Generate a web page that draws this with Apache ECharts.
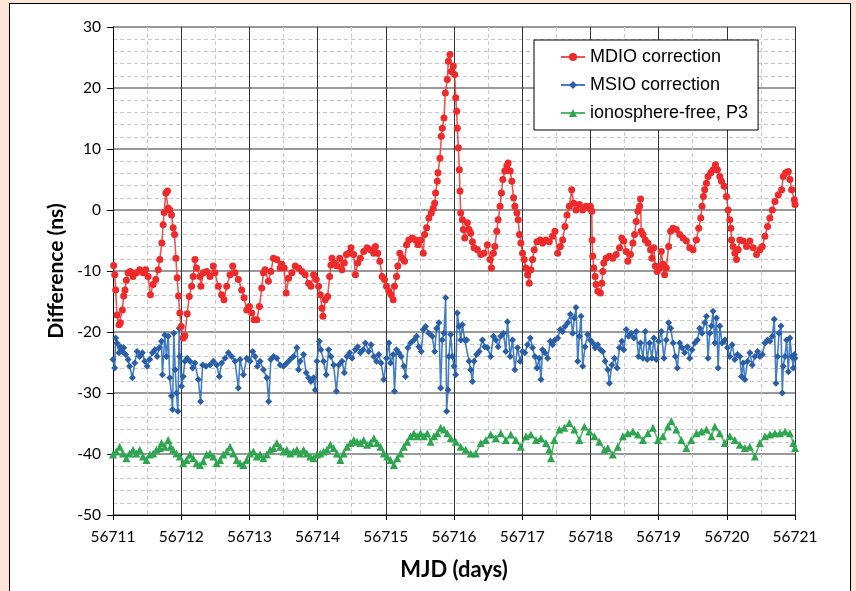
<!DOCTYPE html>
<html>
<head>
<meta charset="utf-8">
<script src="https://cdn.jsdelivr.net/npm/echarts@6/dist/echarts.min.js"></script>
<style>
html,body{margin:0;padding:0;background:#fce4d6;}
#frame{position:absolute;left:9px;top:3px;width:842px;height:600px;background:#fff;border:1.5px solid #000;box-sizing:border-box;}
#chart{position:absolute;left:0;top:0;width:856px;height:591px;}
</style>
</head>
<body>
<div id="frame"></div>
<div id="chart"></div>
<script>
const MJD0 = 56711;
const xTicks = [56711,56712,56713,56714,56715,56716,56717,56718,56719,56720,56721];
const yTicks = [-50,-40,-30,-20,-10,0,10,20,30];
const seriesNames = ["MDIO correction","MSIO correction","ionosphere-free, P3"];

// [days since MJD0, ns]
const mdio = [[0.010,-9.1],[0.025,-10.6],[0.039,-13.1],[0.059,-17.2],[0.088,-18.8],[0.108,-18.5],[0.137,-16.4],[0.157,-14.1],[0.176,-13.1],[0.196,-11.5],[0.221,-10.3],[0.255,-10.1],[0.294,-10.9],[0.343,-10.3],[0.392,-9.8],[0.441,-10.3],[0.480,-9.8],[0.515,-10.9],[0.549,-13.9],[0.588,-12.2],[0.627,-11.4],[0.662,-9.8],[0.686,-8.1],[0.716,-5.4],[0.735,-2.4],[0.750,-0.4],[0.775,2.8],[0.799,3.1],[0.809,0.3],[0.833,0],[0.858,-0.8],[0.882,-2.9],[0.902,-4.0],[0.922,-7.9],[0.941,-11.1],[0.961,-14.1],[0.980,-16.9],[1.000,-19.1],[1.030,-21.0],[1.054,-20.6],[1.088,-17.0],[1.118,-14.2],[1.152,-12.5],[1.176,-10.9],[1.201,-8.1],[1.225,-9.5],[1.275,-10.9],[1.289,-12.5],[1.324,-10.3],[1.373,-10.1],[1.422,-10.9],[1.471,-9.2],[1.495,-10.3],[1.544,-12.5],[1.593,-13.9],[1.627,-14.7],[1.667,-12.5],[1.716,-10.6],[1.755,-9.2],[1.789,-10.3],[1.838,-11.4],[1.887,-13.1],[1.922,-14.4],[1.961,-16.4],[2.000,-15.8],[2.034,-16.9],[2.069,-18.0],[2.108,-18.0],[2.147,-15.8],[2.181,-12.8],[2.206,-10.3],[2.230,-9.8],[2.279,-11.7],[2.314,-10.1],[2.353,-7.9],[2.402,-8.1],[2.451,-9.5],[2.475,-8.9],[2.510,-9.5],[2.539,-13.6],[2.574,-11.2],[2.623,-10.3],[2.672,-9.2],[2.721,-9.5],[2.770,-10.1],[2.819,-10.6],[2.868,-12.0],[2.902,-12.5],[2.941,-10.6],[2.980,-11.4],[3.015,-12.5],[3.039,-13.9],[3.064,-16.1],[3.078,-17.4],[3.113,-14.7],[3.147,-14.2],[3.176,-10.9],[3.196,-9.0],[3.211,-7.9],[3.245,-8.7],[3.284,-9.2],[3.324,-7.9],[3.358,-9.8],[3.392,-8.7],[3.422,-7.3],[3.456,-7.1],[3.490,-6.2],[3.529,-7.3],[3.554,-10.6],[3.588,-8.7],[3.627,-7.9],[3.676,-6.8],[3.725,-6.2],[3.775,-6.5],[3.824,-7.1],[3.848,-6.0],[3.882,-7.1],[3.912,-8.4],[3.946,-10.9],[3.980,-11.4],[4.010,-12.5],[4.044,-13.3],[4.078,-13.9],[4.108,-14.7],[4.127,-12.5],[4.157,-10.9],[4.176,-9.2],[4.206,-7.1],[4.240,-7.9],[4.275,-8.4],[4.304,-5.7],[4.338,-4.9],[4.387,-4.6],[4.436,-4.9],[4.471,-5.7],[4.510,-4.9],[4.549,-7.1],[4.569,-4.0],[4.598,-2.9],[4.632,-1.3],[4.667,-0.5],[4.696,0.3],[4.716,1.1],[4.730,2.8],[4.755,4.7],[4.765,6.1],[4.794,8.5],[4.814,12.1],[4.829,13.4],[4.853,15.1],[4.873,19.2],[4.902,21.4],[4.917,24.4],[4.941,25.5],[4.961,22.7],[4.990,23.6],[5.010,22.2],[5.025,18.4],[5.039,16.2],[5.049,13.4],[5.064,10.2],[5.078,6.6],[5.088,3.1],[5.098,-0.5],[5.123,-1.6],[5.137,-3.2],[5.157,-4.6],[5.196,-2.1],[5.221,-3.2],[5.245,-3.8],[5.270,-5.2],[5.294,-6.2],[5.343,-6.5],[5.392,-7.3],[5.441,-7.1],[5.490,-5.7],[5.529,-8.1],[5.549,-9.5],[5.578,-7.1],[5.598,-6.0],[5.627,-3.5],[5.647,-1.6],[5.676,0.6],[5.696,2.8],[5.716,5.0],[5.745,6.4],[5.775,7.2],[5.794,7.7],[5.824,6.4],[5.848,4.7],[5.873,2.0],[5.892,0.6],[5.922,-0.5],[5.941,-1.6],[5.961,-4.0],[5.980,-5.4],[6.005,-7.1],[6.029,-8.1],[6.054,-9.5],[6.078,-10.6],[6.103,-12.0],[6.127,-9.8],[6.152,-8.1],[6.176,-6.5],[6.216,-5.2],[6.265,-4.9],[6.299,-5.4],[6.348,-4.9],[6.397,-5.2],[6.446,-4.3],[6.480,-3.5],[6.520,-7.1],[6.559,-6.0],[6.593,-4.9],[6.627,-2.7],[6.657,-0.8],[6.691,0.6],[6.725,3.3],[6.755,1.1],[6.789,0.0],[6.838,0.9],[6.887,0.0],[6.936,0.6],[6.985,0.3],[7.000,0.6],[7.020,-0.2],[7.025,-4.9],[7.035,-7.6],[7.049,-9.5],[7.069,-10.9],[7.083,-12.2],[7.108,-13.3],[7.147,-13.6],[7.167,-12.0],[7.182,-10.1],[7.196,-8.7],[7.230,-7.9],[7.280,-7.6],[7.328,-7.9],[7.378,-7.3],[7.427,-6.2],[7.461,-4.6],[7.490,-5.1],[7.525,-6.8],[7.549,-8.4],[7.588,-7.3],[7.623,-5.4],[7.647,-4.0],[7.672,-1.9],[7.696,-0.2],[7.721,0.6],[7.735,1.8],[7.745,-3.5],[7.770,-4.0],[7.804,-4.9],[7.843,-5.4],[7.882,-6.5],[7.902,-7.9],[7.931,-6.2],[7.951,-9.2],[7.980,-10.1],[8.015,-9.5],[8.039,-6.8],[8.064,-8.9],[8.088,-10.6],[8.113,-9.5],[8.147,-6.0],[8.176,-3.5],[8.211,-3.0],[8.260,-3.2],[8.309,-4.0],[8.358,-4.6],[8.407,-5.1],[8.456,-6.2],[8.505,-6.5],[8.554,-4.9],[8.588,-3.0],[8.618,-1.3],[8.637,0.6],[8.657,2.2],[8.676,3.3],[8.701,4.4],[8.725,5.5],[8.765,6.1],[8.799,6.6],[8.833,7.4],[8.863,6.6],[8.897,5.5],[8.922,4.7],[8.961,3.9],[8.995,2.2],[9.020,0.0],[9.044,-1.6],[9.059,-3.0],[9.069,-4.9],[9.093,-6.0],[9.118,-7.1],[9.142,-8.1],[9.167,-6.5],[9.191,-4.9],[9.240,-5.1],[9.289,-6.0],[9.338,-5.1],[9.387,-6.2],[9.436,-7.3],[9.485,-6.5],[9.520,-6.0],[9.559,-4.3],[9.598,-2.7],[9.632,-1.3],[9.667,0.0],[9.706,1.4],[9.755,2.5],[9.804,3.3],[9.828,5.5],[9.863,6.1],[9.902,6.3],[9.926,5.0],[9.951,3.3],[9.990,1.7],[10.000,0.9]];

const msio = [[0.000,-24.5],[0.025,-25.9],[0.039,-21.0],[0.059,-21.8],[0.088,-23.4],[0.108,-22.4],[0.137,-23.2],[0.157,-22.6],[0.186,-23.7],[0.221,-24.5],[0.245,-25.6],[0.284,-27.5],[0.319,-25.1],[0.353,-23.2],[0.392,-24.0],[0.431,-23.4],[0.466,-24.8],[0.500,-25.6],[0.539,-24.5],[0.578,-23.4],[0.613,-22.9],[0.647,-24.0],[0.676,-22.6],[0.711,-21.5],[0.725,-27.0],[0.760,-20.5],[0.784,-24.0],[0.809,-20.7],[0.833,-27.5],[0.858,-30.5],[0.873,-32.7],[0.892,-20.2],[0.912,-26.2],[0.931,-30.0],[0.951,-33.0],[0.971,-19.4],[0.980,-24.0],[1.005,-28.9],[1.029,-27.3],[1.054,-24.8],[1.088,-24.3],[1.127,-24.8],[1.167,-25.9],[1.201,-25.1],[1.250,-27.8],[1.284,-31.4],[1.314,-25.4],[1.363,-25.6],[1.422,-25.4],[1.471,-24.8],[1.520,-25.4],[1.559,-27.3],[1.593,-25.1],[1.642,-24.3],[1.691,-23.4],[1.740,-24.0],[1.789,-24.8],[1.838,-29.2],[1.863,-24.5],[1.912,-27.0],[1.961,-24.3],[2.010,-24.8],[2.049,-23.2],[2.083,-24.0],[2.118,-25.6],[2.157,-24.8],[2.206,-26.2],[2.255,-27.5],[2.284,-31.4],[2.314,-24.5],[2.353,-24.0],[2.402,-24.3],[2.451,-25.4],[2.500,-25.6],[2.549,-25.1],[2.598,-24.5],[2.647,-24.0],[2.696,-22.6],[2.721,-26.2],[2.745,-24.8],[2.794,-23.7],[2.833,-26.7],[2.868,-27.5],[2.902,-28.1],[2.941,-27.5],[2.966,-29.5],[2.990,-24.8],[3.025,-21.5],[3.049,-22.9],[3.088,-24.8],[3.127,-27.0],[3.162,-22.9],[3.196,-24.0],[3.235,-25.4],[3.275,-29.7],[3.309,-25.4],[3.358,-24.8],[3.392,-26.7],[3.431,-24.0],[3.471,-23.4],[3.505,-24.3],[3.554,-22.9],[3.588,-22.4],[3.627,-23.4],[3.667,-22.9],[3.701,-21.8],[3.750,-23.2],[3.784,-22.1],[3.824,-24.0],[3.863,-24.8],[3.897,-23.7],[3.931,-25.1],[3.971,-27.8],[4.010,-24.3],[4.044,-21.8],[4.069,-25.1],[4.108,-23.7],[4.127,-29.7],[4.157,-22.9],[4.191,-23.4],[4.225,-24.0],[4.265,-25.6],[4.289,-27.3],[4.324,-22.6],[4.363,-21.8],[4.412,-21.3],[4.451,-20.7],[4.485,-22.4],[4.520,-23.2],[4.549,-19.6],[4.583,-19.1],[4.632,-20.2],[4.681,-20.7],[4.716,-23.2],[4.745,-19.4],[4.779,-18.5],[4.804,-29.2],[4.828,-21.3],[4.853,-20.2],[4.878,-14.4],[4.892,-33.0],[4.912,-29.5],[4.926,-24.0],[4.951,-20.4],[4.976,-24.0],[5.000,-25.6],[5.025,-27.0],[5.049,-16.9],[5.074,-19.1],[5.098,-21.3],[5.123,-18.8],[5.157,-21.3],[5.186,-21.3],[5.221,-24.8],[5.245,-26.2],[5.270,-28.1],[5.294,-24.8],[5.333,-23.7],[5.368,-23.2],[5.417,-21.3],[5.451,-22.4],[5.490,-22.6],[5.539,-24.0],[5.578,-20.7],[5.613,-21.3],[5.647,-22.4],[5.686,-20.7],[5.725,-20.2],[5.760,-23.2],[5.784,-18.3],[5.824,-24.0],[5.858,-21.3],[5.892,-26.2],[5.931,-22.6],[5.971,-24.8],[6.005,-23.2],[6.039,-23.4],[6.078,-22.1],[6.118,-21.0],[6.152,-22.6],[6.186,-24.0],[6.216,-25.9],[6.250,-24.3],[6.275,-27.8],[6.299,-22.9],[6.333,-23.4],[6.373,-24.3],[6.412,-21.5],[6.446,-22.1],[6.480,-21.3],[6.520,-21.0],[6.559,-19.6],[6.593,-19.9],[6.627,-19.1],[6.667,-18.5],[6.706,-17.1],[6.740,-20.2],[6.765,-17.7],[6.789,-16.0],[6.814,-24.8],[6.838,-20.7],[6.863,-17.4],[6.887,-25.6],[6.922,-22.4],[6.961,-20.4],[7.000,-21.3],[7.034,-21.8],[7.069,-22.6],[7.108,-22.1],[7.147,-22.9],[7.181,-23.2],[7.216,-24.8],[7.255,-26.2],[7.279,-28.4],[7.314,-25.4],[7.353,-24.3],[7.392,-25.9],[7.426,-22.6],[7.461,-21.5],[7.490,-22.9],[7.525,-19.6],[7.559,-20.7],[7.598,-20.2],[7.637,-21.0],[7.672,-19.9],[7.706,-24.0],[7.735,-21.8],[7.770,-24.3],[7.804,-19.9],[7.833,-24.5],[7.868,-21.8],[7.902,-24.3],[7.931,-21.0],[7.966,-24.5],[8.000,-21.5],[8.039,-19.9],[8.078,-24.3],[8.113,-21.3],[8.147,-18.5],[8.177,-19.4],[8.211,-21.8],[8.245,-24.0],[8.275,-25.9],[8.309,-21.8],[8.343,-22.6],[8.382,-23.4],[8.422,-22.4],[8.456,-24.3],[8.490,-22.9],[8.529,-21.8],[8.569,-21.3],[8.603,-19.4],[8.637,-20.2],[8.676,-18.5],[8.701,-17.4],[8.725,-24.3],[8.750,-20.2],[8.775,-19.0],[8.799,-16.6],[8.824,-21.8],[8.848,-17.7],[8.873,-25.9],[8.897,-19.0],[8.931,-21.8],[8.971,-21.3],[9.010,-22.6],[9.044,-24.0],[9.078,-22.1],[9.118,-24.5],[9.157,-23.7],[9.191,-24.0],[9.216,-27.3],[9.240,-25.1],[9.265,-27.8],[9.304,-24.8],[9.338,-23.4],[9.373,-25.4],[9.412,-24.0],[9.451,-23.2],[9.485,-24.0],[9.520,-23.7],[9.559,-21.8],[9.598,-21.3],[9.632,-21.5],[9.667,-20.7],[9.696,-17.9],[9.721,-28.4],[9.745,-24.0],[9.765,-20.2],[9.794,-19.0],[9.814,-30.0],[9.828,-25.6],[9.853,-24.0],[9.877,-21.3],[9.902,-26.5],[9.926,-21.0],[9.951,-24.0],[9.975,-25.9],[9.990,-23.7],[10.000,-24.3]];

const ionoFree = [[0.000,-40.1],[0.049,-39.6],[0.098,-38.8],[0.147,-39.9],[0.196,-40.7],[0.245,-39.9],[0.294,-39.3],[0.343,-39.9],[0.392,-39.3],[0.441,-40.4],[0.490,-41.0],[0.539,-40.1],[0.588,-39.9],[0.637,-39.3],[0.686,-39.0],[0.711,-38.2],[0.760,-38.8],[0.809,-37.7],[0.843,-38.8],[0.882,-39.3],[0.931,-39.9],[0.980,-40.4],[1.029,-41.5],[1.078,-41.0],[1.127,-40.1],[1.176,-40.7],[1.225,-41.5],[1.275,-41.8],[1.324,-41.2],[1.373,-40.1],[1.422,-39.9],[1.471,-40.4],[1.520,-41.5],[1.569,-41.0],[1.618,-40.1],[1.667,-39.6],[1.716,-38.8],[1.765,-39.9],[1.814,-41.0],[1.863,-41.5],[1.912,-41.8],[1.961,-41.0],[2.010,-39.9],[2.059,-39.6],[2.108,-40.4],[2.157,-40.1],[2.206,-40.7],[2.255,-40.1],[2.304,-39.3],[2.353,-39.0],[2.402,-38.2],[2.451,-38.8],[2.500,-39.6],[2.549,-39.3],[2.598,-39.9],[2.647,-39.6],[2.696,-39.3],[2.745,-39.9],[2.794,-39.3],[2.843,-39.9],[2.892,-40.4],[2.941,-40.7],[2.990,-40.1],[3.039,-39.9],[3.088,-39.6],[3.137,-39.3],[3.186,-38.5],[3.235,-39.0],[3.284,-39.9],[3.333,-41.0],[3.382,-39.9],[3.431,-38.8],[3.480,-38.2],[3.529,-37.7],[3.578,-38.0],[3.627,-38.2],[3.676,-37.7],[3.725,-38.5],[3.775,-38.2],[3.824,-37.4],[3.873,-38.2],[3.922,-38.8],[3.971,-39.9],[4.020,-40.4],[4.069,-41.0],[4.118,-41.8],[4.167,-40.7],[4.216,-39.9],[4.265,-38.8],[4.314,-38.0],[4.363,-37.1],[4.412,-36.6],[4.461,-37.1],[4.510,-36.6],[4.559,-37.1],[4.608,-36.6],[4.657,-38.0],[4.706,-37.1],[4.755,-36.6],[4.804,-35.7],[4.853,-36.0],[4.902,-36.6],[4.951,-37.4],[5.025,-38.0],[5.098,-38.8],[5.172,-39.3],[5.245,-39.9],[5.319,-39.9],[5.392,-38.2],[5.466,-37.7],[5.539,-36.8],[5.613,-37.4],[5.686,-36.6],[5.760,-37.7],[5.833,-36.8],[5.907,-37.7],[5.980,-38.8],[6.054,-37.1],[6.127,-36.8],[6.201,-37.7],[6.275,-37.4],[6.348,-38.2],[6.397,-39.3],[6.422,-40.7],[6.471,-37.7],[6.544,-36.0],[6.618,-35.7],[6.691,-34.9],[6.765,-36.0],[6.838,-37.7],[6.912,-35.5],[6.985,-36.3],[7.059,-37.1],[7.132,-38.0],[7.206,-39.3],[7.255,-39.0],[7.328,-40.1],[7.402,-38.8],[7.476,-37.1],[7.549,-36.6],[7.623,-36.3],[7.696,-36.8],[7.770,-37.7],[7.843,-36.6],[7.917,-35.7],[7.990,-37.7],[8.064,-37.1],[8.137,-35.5],[8.186,-34.6],[8.260,-36.0],[8.333,-37.7],[8.407,-39.0],[8.480,-37.7],[8.554,-36.6],[8.627,-36.3],[8.701,-36.0],[8.775,-37.1],[8.824,-35.5],[8.897,-36.6],[8.971,-38.2],[9.044,-37.1],[9.118,-37.7],[9.191,-38.5],[9.265,-39.0],[9.338,-38.8],[9.412,-40.4],[9.485,-38.2],[9.559,-37.1],[9.632,-36.8],[9.706,-36.6],[9.779,-36.6],[9.853,-36.3],[9.926,-36.6],[9.975,-38.2],[10.000,-39.0]];

const toMjd = arr => arr.map(p => [MJD0 + p[0], p[1]]);
const FONT = 'Lato';

const chart = echarts.init(document.getElementById('chart'), null, {renderer:'canvas'});
chart.setOption({
  backgroundColor: 'transparent',
  animation: false,
  textStyle: {fontFamily: FONT},
  grid: {left: 113, right: 61, top: 27, bottom: 76, containLabel: false},
  legend: {
    orient: 'vertical', left: 534, top: 40,
    data: seriesNames,
    backgroundColor: '#fff', borderColor: '#000', borderWidth: 1,
    padding: [8, 10, 8, 26], itemGap: 10, itemWidth: 24, itemHeight: 10,
    textStyle: {fontFamily: 'Liberation Sans', fontSize: 18, color: '#000'}
  },
  xAxis: {
    type: 'value', min: xTicks[0], max: xTicks[xTicks.length-1], interval: 1,
    name: 'MJD (days)', nameLocation: 'middle', nameGap: 44,
    nameTextStyle: {fontFamily: FONT, fontWeight: 'bold', fontSize: 22, color: '#000'},
    axisLine: {onZero: false, lineStyle: {color: '#000', width: 1}},
    axisTick: {show: true, inside: false, length: 5, lineStyle: {color: '#000'}},
    axisLabel: {fontFamily: FONT, fontSize: 15.5, color: '#000', margin: 14, formatter: v => String(v)},
    splitLine: {show: true, lineStyle: {color: '#333', width: 1}},
    minorTick: {show: false, splitNumber: 2},
    minorSplitLine: {show: true, lineStyle: {color: '#c8c8c8', type: [4, 3], width: 1}}
  },
  yAxis: {
    type: 'value', min: yTicks[0], max: yTicks[yTicks.length-1], interval: 10,
    name: 'Difference (ns)', nameLocation: 'middle', nameGap: 46, nameRotate: 90,
    nameTextStyle: {fontFamily: FONT, fontWeight: 'bold', fontSize: 21, color: '#000'},
    axisLine: {show: true, onZero: false, lineStyle: {color: '#000', width: 1}},
    axisTick: {show: true, inside: false, length: 6, lineStyle: {color: '#000'}},
    axisLabel: {fontFamily: FONT, fontSize: 15.5, color: '#000', margin: 12},
    splitLine: {show: true, lineStyle: {color: '#777', width: 1.5}},
    minorTick: {show: false, splitNumber: 5},
    minorSplitLine: {show: true, lineStyle: {color: '#c8c8c8', type: [4, 3], width: 1}}
  },
  series: [
    {
      name: seriesNames[0], type: 'line', data: toMjd(mdio),
      symbol: 'circle', symbolSize: 7, showAllSymbol: true,
      itemStyle: {color: '#ee2a2a'},
      lineStyle: {color: '#f04040', width: 1.6, opacity: 0.9},
      z: 4
    },
    {
      name: seriesNames[1], type: 'line', data: toMjd(msio),
      symbol: 'diamond', symbolSize: 7, showAllSymbol: true,
      itemStyle: {color: '#2a5fa8'},
      lineStyle: {color: '#2f6fbf', width: 1.6, opacity: 0.9},
      z: 3
    },
    {
      name: seriesNames[2], type: 'line', data: toMjd(ionoFree),
      symbol: 'triangle', symbolSize: 8, showAllSymbol: true,
      itemStyle: {color: '#2fa550'},
      lineStyle: {color: '#3ab35a', width: 1.6, opacity: 0.9},
      z: 2
    }
  ]
});
</script>
</body>
</html>
